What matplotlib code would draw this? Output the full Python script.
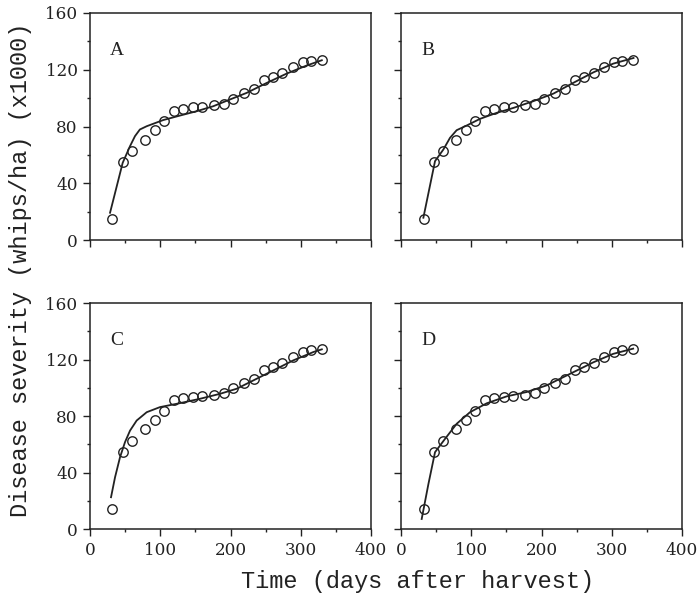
import numpy as np
import matplotlib.pyplot as plt

# observed disease severity (whips/ha x1000), same data in all four panels
days = [32, 47, 60, 78, 93, 106, 120, 132, 146, 160, 177, 191, 204, 219, 233, 248, 261, 274, 289, 303, 315, 330]
severity = [14.5, 54.7, 62.4, 70.7, 77.4, 83.8, 91.0, 92.4, 93.4, 94.0, 95.0, 96.0, 99.7, 103.5, 106.3, 112.7, 114.6, 117.5, 122.1, 125.4, 126.4, 127.2]

# fitted curves
a_fit_days = [28.5, 46.5, 57, 64, 71, 80.7, 104, 128, 152, 175.5, 199, 223, 251.5, 280, 308.5, 330]
a_fit_vals = [19.2, 54.4, 66.2, 73.2, 77.9, 80.2, 84.5, 87.7, 90.8, 94.3, 99.0, 103.7, 110.7, 117.3, 123.0, 126.7]

b_fit_days = [31.8, 48.4, 60.3, 69.7, 79.2, 93.5, 112.5, 136, 160, 188, 217, 245, 274, 302, 331]
b_fit_vals = [15.7, 55.6, 63.8, 72.0, 77.4, 80.7, 85.4, 89.6, 93.1, 97.8, 103.2, 110.7, 118.2, 124.3, 128.3]

c_fit_days = [29.9, 35.6, 42.7, 49.8, 57, 66.4, 80.7, 99.6, 128, 156.6, 185, 208.8, 232.5, 261, 289.4, 318, 330]
c_fit_vals = [22.5, 36.6, 50.8, 61.5, 69.7, 76.8, 82.7, 86.3, 89.1, 92.2, 95.7, 99.3, 105.2, 112.3, 119.4, 125.3, 127.2]

d_fit_days = [29.4, 39, 48.4, 62.6, 79.2, 98.2, 122, 150.4, 179, 207.4, 235.9, 273.7, 302, 330.5]
d_fit_vals = [7.1, 31.9, 54.4, 63.8, 74.5, 82.7, 89.0, 93.9, 97.0, 101.7, 108.7, 118.0, 124.0, 127.7]

panel_names = ['A', 'B', 'C', 'D']
fits = [(a_fit_days, a_fit_vals), (b_fit_days, b_fit_vals), (c_fit_days, c_fit_vals), (d_fit_days, d_fit_vals)]

ink = '#222222'
fig = plt.figure(figsize=(7, 5.96), dpi=100)

# axes boxes in figure fractions (left, bottom, width, height)
boxes = [(0.1286, 0.5973, 0.4014, 0.3809), (0.5729, 0.5973, 0.4014, 0.3809),
         (0.1286, 0.1124, 0.4014, 0.3792), (0.5729, 0.1124, 0.4014, 0.3792)]

for i in range(4):
    ax = fig.add_axes(boxes[i])
    fx, fy = fits[i]
    ax.plot(fx, fy, '-', color=ink, lw=1.3)
    ax.plot(days, severity, 'o', mfc='none', mec=ink, mew=1.0, ms=6.8)
    ax.set_xlim(0, 400)
    ax.set_ylim(0, 160)
    ax.set_xticks(np.arange(0, 401, 100))
    ax.set_xticks(np.arange(0, 401, 50), minor=True)
    ax.set_yticks(np.arange(0, 161, 40))
    ax.set_yticks(np.arange(0, 161, 20), minor=True)
    ax.tick_params(which='major', direction='out', length=5, width=1.0, color=ink, pad=4,
                   labelsize=12.2, labelcolor=ink)
    ax.tick_params(which='minor', direction='out', length=2.5, width=1.0, color=ink)
    for lab in ax.get_xticklabels() + ax.get_yticklabels():
        lab.set_family('DejaVu Serif')
    if i < 2:
        ax.tick_params(labelbottom=False)
    if i % 2 == 1:
        ax.tick_params(labelleft=False)
    for s in ax.spines.values():
        s.set_linewidth(1.1)
        s.set_color(ink)
    ax.text(0.096, 0.835, panel_names[i], transform=ax.transAxes, ha='center', va='center',
            fontsize=14, family='Liberation Serif', color=ink)

fig.text(0.03, 0.547, 'Disease severity (whips/ha) (x1000)', rotation=90, ha='center', va='center',
         fontsize=17, family='Liberation Mono', color=ink)
fig.text(0.5964, 0.024, 'Time (days after harvest)', ha='center', va='center',
         fontsize=17, family='Liberation Mono', color=ink)

plt.savefig('out.png', dpi=100)
